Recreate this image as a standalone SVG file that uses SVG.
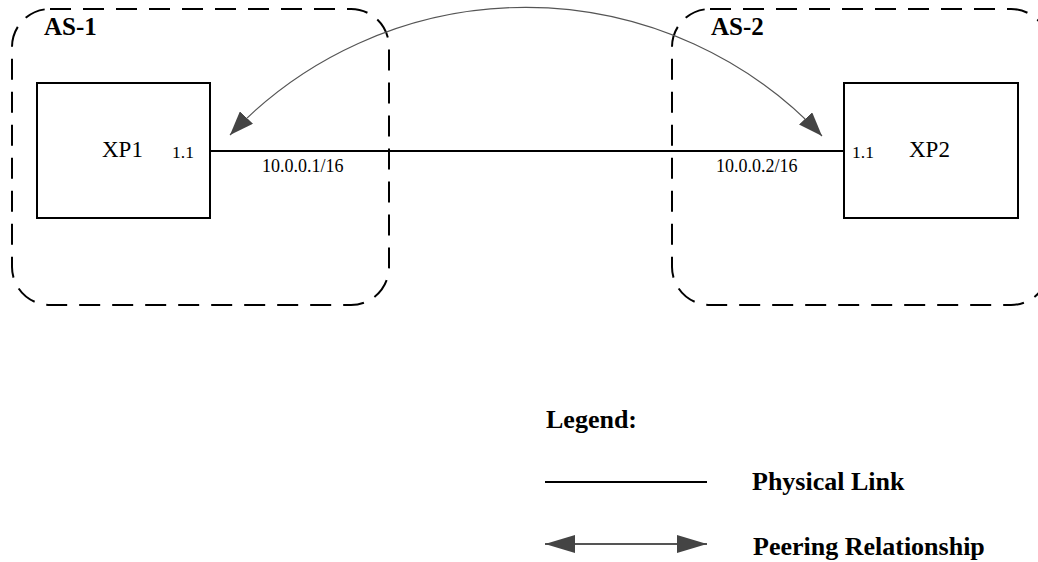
<svg xmlns="http://www.w3.org/2000/svg" width="1038" height="562" viewBox="0 0 1038 562">
<style>
.as{fill:none;stroke:#000;stroke-width:2;stroke-dasharray:21 12}
.box{fill:#fff;stroke:#000;stroke-width:2}
.link{stroke:#000;stroke-width:2;fill:none}
.peer{stroke:#555;stroke-width:1.2;fill:none}
.t{font-family:"Liberation Serif","Times New Roman",serif;fill:#000}
.b{font-weight:bold}
.head{fill:#444}
</style>
<defs>
<marker id="ah" viewBox="0 0 24 18" refX="24" refY="9" markerWidth="24" markerHeight="18" markerUnits="userSpaceOnUse" orient="auto-start-reverse">
<path class="head" d="M0,0 L24,9 L0,18 Z"/>
</marker>
<marker id="ahl" viewBox="0 0 30 18" refX="30" refY="9" markerWidth="30" markerHeight="18" markerUnits="userSpaceOnUse" orient="auto-start-reverse">
<path class="head" d="M0,0 L30,9 L0,18 Z"/>
</marker>
</defs>
<g id="as1">
<rect class="as" x="12" y="9" width="377" height="296" rx="38" ry="38"/>
<text class="t b" x="44" y="35" font-size="25">AS-1</text>
</g>
<g id="as2">
<rect class="as" x="672" y="9" width="377" height="296" rx="38" ry="38"/>
<text class="t b" x="711" y="35" font-size="25">AS-2</text>
</g>
<g id="xp1">
<rect class="box" x="37" y="83" width="173" height="135"/>
<text class="t" x="102" y="157" font-size="23">XP1</text>
<text class="t" x="172" y="158" font-size="17.5">1.1</text>
</g>
<g id="xp2">
<rect class="box" x="844" y="83" width="174" height="135"/>
<text class="t" x="909" y="157" font-size="23">XP2</text>
<text class="t" x="852" y="158" font-size="17.5">1.1</text>
</g>
<g id="connectors">
<line class="link" x1="210" y1="151" x2="844" y2="151"/>
<path class="peer" d="M230,135 A406,406 0 0 1 822,136" marker-start="url(#ah)" marker-end="url(#ah)"/>
</g>
<g id="labels">
<text class="t" x="262" y="172" font-size="18">10.0.0.1/16</text>
<text class="t" x="716" y="172" font-size="18">10.0.0.2/16</text>
</g>
<g id="legend">
<text class="t b" x="546" y="428" font-size="26">Legend:</text>
<line class="link" x1="545" y1="482" x2="707" y2="482"/>
<text class="t b" x="752" y="490" font-size="26">Physical Link</text>
<line x1="545" y1="544" x2="707" y2="544" stroke="#555" stroke-width="2" marker-start="url(#ahl)" marker-end="url(#ahl)"/>
<text class="t b" x="753" y="555" font-size="26">Peering Relationship</text>
</g>
</svg>
